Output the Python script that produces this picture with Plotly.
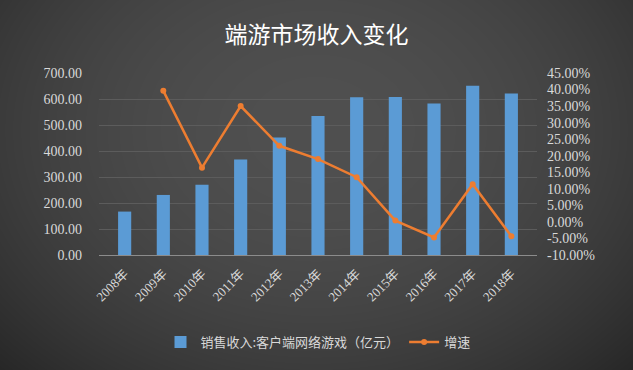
import base64, struct, zlib
import numpy as np
import plotly.graph_objects as go

years = ["2008年", "2009年", "2010年", "2011年", "2012年", "2013年",
         "2014年", "2015年", "2016年", "2017年", "2018年"]
revenue = [167, 231, 270, 367, 452, 535, 607, 608, 583, 651, 621]
growth = [None, 0.396, 0.164, 0.350, 0.230, 0.190, 0.135, 0.004, -0.047, 0.114, -0.043]
left_ticks = [0, 100, 200, 300, 400, 500, 600, 700]
right_tickvals = [-0.10, -0.05, 0, 0.05, 0.10, 0.15, 0.20, 0.25, 0.30, 0.35, 0.40, 0.45]
right_ticktext = ["-10.00%", "-5.00%", "0.00%", "5.00%", "10.00%", "15.00%",
                  "20.00%", "25.00%", "30.00%", "35.00%", "40.00%", "45.00%"]

W, H = 633, 370
ML, MR, MT, MB = 99, 96, 73, 115
PW, PH = W - ML - MR, H - MT - MB


def make_bg():
    yy, xx = np.mgrid[0:H, 0:W].astype(float)
    r2 = ((xx - 316) / 390) ** 2 + ((yy - 130) / 300) ** 2
    v = 80 - (80 - 36) * np.clip(r2, 0, 1.4) / 1.4
    v = np.clip(v, 0, 255).astype(np.uint8)
    rgb = np.stack([v, v, v], axis=-1)
    raw = b"".join(b"\x00" + rgb[i].tobytes() for i in range(H))

    def chunk(t, d):
        c = struct.pack(">I", len(d)) + t + d
        return c + struct.pack(">I", zlib.crc32(t + d) & 0xffffffff)

    png = b"\x89PNG\r\n\x1a\n" + chunk(b"IHDR", struct.pack(">IIBBBBB", W, H, 8, 2, 0, 0, 0)) \
        + chunk(b"IDAT", zlib.compress(raw, 9)) + chunk(b"IEND", b"")
    return "data:image/png;base64," + base64.b64encode(png).decode()


serif = "Liberation Serif, Noto Sans CJK SC, serif"
cjk = "Noto Sans CJK SC, sans-serif"
label_color = "#d9d9d9"

fig = go.Figure()
fig.add_trace(go.Bar(
    x=years, y=revenue, name="销售收入:客户端网络游戏（亿元）",
    marker=dict(color="#5B9BD5", line=dict(width=0)),
    yaxis="y",
))
fig.add_trace(go.Scatter(
    x=years, y=growth, name="增速", mode="lines+markers",
    line=dict(color="#ED7D31", width=2.5),
    marker=dict(color="#ED7D31", size=6),
    yaxis="y2", connectgaps=False,
))

fig.update_layout(
    width=W, height=H,
    margin=dict(l=ML, r=MR, t=MT, b=MB),
    paper_bgcolor="#3a3a3a",
    plot_bgcolor="rgba(0,0,0,0)",
    bargap=0.66,
    title=dict(text="端游市场收入变化", x=0.5, xanchor="center",
               y=1 - 35 / H, yanchor="middle",
               font=dict(family=cjk, size=23, color="#ffffff")),
    xaxis=dict(
        tickangle=-45, tickfont=dict(family=serif, size=13, color=label_color),
        showgrid=False, showline=True, linecolor="#8c8c8c", linewidth=1,
        ticks="", ticklabelstandoff=5,
    ),
    yaxis=dict(
        range=[0, 700], tickvals=left_ticks, tickformat=".2f",
        tickfont=dict(family=serif, size=14, color=label_color),
        showgrid=True, gridcolor="#5c5c5c", gridwidth=1,
        zeroline=False, showline=False, ticks="", ticklabelstandoff=16,
    ),
    yaxis2=dict(
        range=[-0.10, 0.45], tickvals=right_tickvals, ticktext=right_ticktext,
        overlaying="y", side="right",
        tickfont=dict(family=serif, size=14, color=label_color),
        showgrid=False, zeroline=False, showline=False, ticks="", ticklabelstandoff=9,
    ),
    legend=dict(orientation="h", x=0.5, xanchor="center",
                y=-(342 - (H - MB)) / PH, yanchor="middle",
                font=dict(family=cjk, size=13, color=label_color),
                bgcolor="rgba(0,0,0,0)", itemwidth=30),
    showlegend=True,
    images=[dict(source=make_bg(), xref="paper", yref="paper",
                 x=-ML / PW, y=1 + MT / PH, sizex=W / PW, sizey=H / PH,
                 xanchor="left", yanchor="top", sizing="stretch", layer="below")],
)

fig.write_html("out.html", config={"displayModeBar": False},
               post_script="document.body.style.margin='0';")
